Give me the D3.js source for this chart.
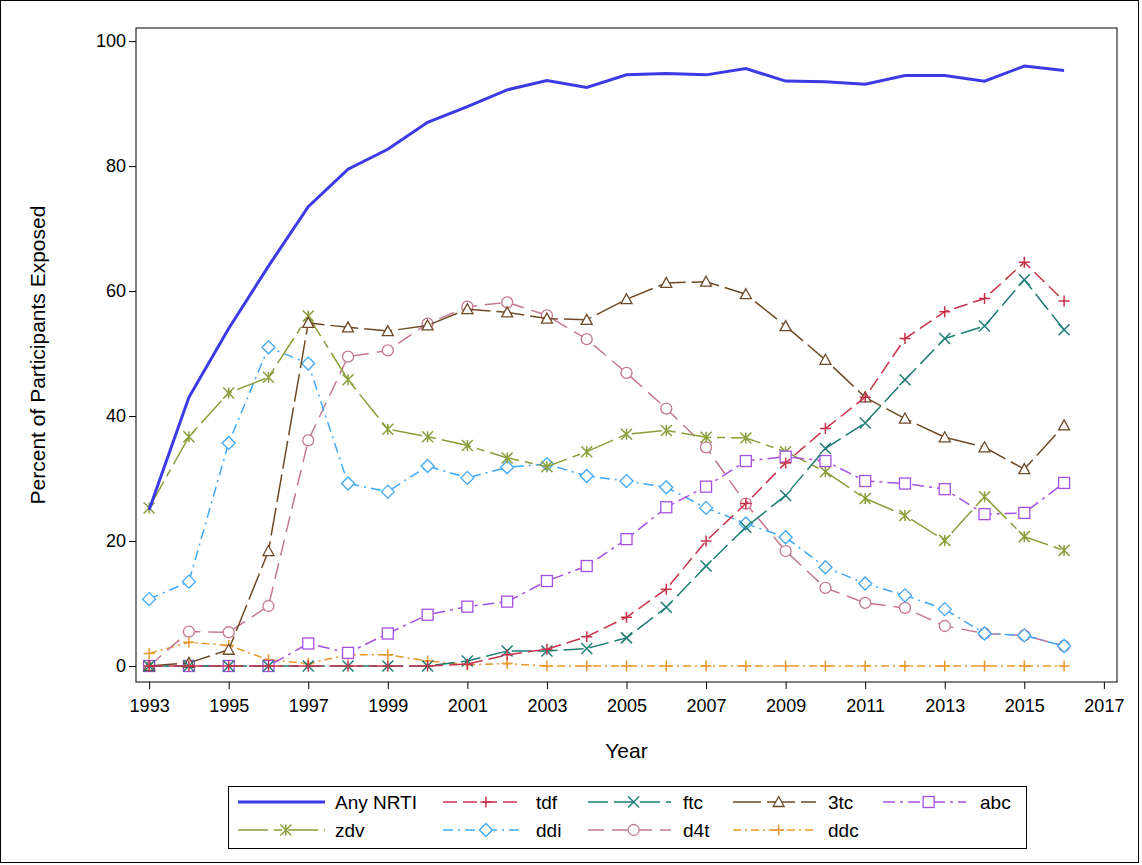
<!DOCTYPE html>
<html><head><meta charset="utf-8">
<script src="https://cdn.jsdelivr.net/npm/d3@7"></script>
<style>body{margin:0;background:#fff;font-family:Arial,"Liberation Sans",sans-serif}</style>
</head><body><svg id="c" width="1142" height="865"></svg>
<script>
const years=d3.range(1993,2017);
const xTicks=[1993,1995,1997,1999,2001,2003,2005,2007,2009,2011,2013,2015,2017];
const yTicks=[0,20,40,60,80,100];
const anyNRTI=[25,43,54,64,73.5,79.5,82.7,87,89.5,92.2,93.7,92.6,94.6,94.8,94.6,95.6,93.6,93.5,93.1,94.5,94.5,93.6,96,95.3];
const tdf=[0,0,0,0,0,0,0,0,0.3,1.8,2.7,4.7,7.8,12.3,20,26,32.5,38,43,52.4,56.7,58.8,64.6,58.4];
const ftc=[0,0,0,0,0,0,0,0,0.8,2.4,2.4,2.8,4.5,9.4,16,22.2,27.3,34.8,38.9,45.8,52.4,54.4,61.8,53.8];
const tc3=[0,0.5,2.6,18.4,54.9,54.2,53.6,54.5,57.1,56.6,55.6,55.4,58.7,61.3,61.5,59.5,54.4,49,43,39.6,36.6,35,31.5,38.5];
const abc=[0,0,0,0,3.6,2.1,5.2,8.2,9.5,10.3,13.6,16,20.3,25.4,28.7,32.8,33.5,32.8,29.6,29.2,28.3,24.3,24.5,29.3];
const zdv=[25.3,36.7,43.7,46.2,56,45.8,37.9,36.7,35.3,33.3,31.9,34.3,37.1,37.7,36.6,36.5,34.3,31.1,26.8,24.1,20.1,27.1,20.7,18.5];
const ddi=[10.7,13.5,35.7,51,48.4,29.2,27.9,32,30.1,31.8,32.3,30.4,29.6,28.6,25.3,22.8,20.6,15.8,13.2,11.3,9.1,5.2,4.9,3.2];
const d4t=[0,5.5,5.4,9.6,36.1,49.5,50.5,54.8,57.5,58.2,56.1,52.3,46.9,41.2,35,26,18.4,12.5,10.1,9.3,6.4,5.2,4.9,3.2];
const ddc=[2,3.8,3.3,1,0.4,1.8,1.8,0.8,0.2,0.4,0,0,0,0,0,0,0,0,0,0,0,0,0,0];

const series=[
 {name:"Any NRTI",v:anyNRTI,c:"#3b3be6",dash:null,m:null,w:3},
 {name:"tdf",v:tdf,c:"#c8324a",dash:"14,6",m:"plus",w:1.5},
 {name:"ftc",v:ftc,c:"#1d7d74",dash:"20,6",m:"x",w:1.5},
 {name:"3tc",v:tc3,c:"#6e4a26",dash:"28,6",m:"tri",w:1.5},
 {name:"abc",v:abc,c:"#a650e0",dash:"12,5,3,5",m:"sq",w:1.5},
 {name:"zdv",v:zdv,c:"#8a9e3a",dash:"30,6,8,6",m:"star",w:1.5},
 {name:"ddi",v:ddi,c:"#3ea8f5",dash:"10,5,2,5",m:"dia",w:1.5},
 {name:"d4t",v:d4t,c:"#c47892",dash:"16,8",m:"circ",w:1.5},
 {name:"ddc",v:ddc,c:"#e8982a",dash:"8,4,2,4",m:"plus",w:1.5}
];
const svg=d3.select("#c");
svg.append("rect").attr("x",0.5).attr("y",0.5).attr("width",1138).attr("height",862).attr("fill","none").attr("stroke","#000");
const L=136,R=1117,T=28,B=682;
const x=d3.scaleLinear().domain([1992.67,2017.33]).range([L,R]);
const y=d3.scaleLinear().domain([-2.56,102.1]).range([B,T]);
svg.append("rect").attr("x",L).attr("y",T).attr("width",R-L).attr("height",B-T).attr("fill","none").attr("stroke","#000");
const xa=svg.append("g").attr("transform",`translate(0,${B})`).call(d3.axisBottom(x).tickValues(xTicks).tickFormat(d3.format("d")).tickSize(7).tickSizeOuter(0));
const ya=svg.append("g").attr("transform",`translate(${L},0)`).call(d3.axisLeft(y).tickValues(yTicks).tickSize(7).tickSizeOuter(0));
[xa,ya].forEach(a=>{a.select(".domain").remove();a.selectAll("text").attr("font-size",18).attr("fill","#000").attr("font-family","Arial,Liberation Sans");});
xa.selectAll("text").attr("dy","1.1em");
svg.append("text").attr("x",(L+R)/2).attr("y",758).attr("text-anchor","middle").attr("font-size",21).text("Year");
svg.append("text").attr("transform",`translate(45,${(T+B)/2}) rotate(-90)`).attr("text-anchor","middle").attr("font-size",21).text("Percent of Participants Exposed");

function marker(g,type,cx,cy,c){
  const s=5.5;
  if(type==="plus"){g.append("path").attr("d",`M${cx-s},${cy}H${cx+s}M${cx},${cy-s}V${cy+s}`).attr("stroke",c).attr("stroke-width",1.5);}
  else if(type==="x"){g.append("path").attr("d",`M${cx-s},${cy-s}L${cx+s},${cy+s}M${cx-s},${cy+s}L${cx+s},${cy-s}`).attr("stroke",c).attr("stroke-width",1.5);}
  else if(type==="star"){g.append("path").attr("d",`M${cx-s},${cy-s}L${cx+s},${cy+s}M${cx-s},${cy+s}L${cx+s},${cy-s}M${cx},${cy-s}V${cy+s}`).attr("stroke",c).attr("stroke-width",1.5);}
  else if(type==="tri"){g.append("path").attr("d",`M${cx},${cy-s}L${cx+s},${cy+s-1}L${cx-s},${cy+s-1}Z`).attr("stroke",c).attr("fill","#fff").attr("stroke-width",1.3);}
  else if(type==="sq"){g.append("rect").attr("x",cx-s).attr("y",cy-s).attr("width",2*s).attr("height",2*s).attr("stroke",c).attr("fill","#fff").attr("stroke-width",1.3);}
  else if(type==="dia"){g.append("path").attr("d",`M${cx},${cy-s-1}L${cx+s+1},${cy}L${cx},${cy+s+1}L${cx-s-1},${cy}Z`).attr("stroke",c).attr("fill","#fff").attr("stroke-width",1.3);}
  else if(type==="circ"){g.append("circle").attr("cx",cx).attr("cy",cy).attr("r",s).attr("stroke",c).attr("fill","#fff").attr("stroke-width",1.3);}
}
const line=d3.line().x((d,i)=>x(years[i])).y(d=>y(d));
const g=svg.append("g");
[...series].reverse().forEach(s=>{
  g.append("path").attr("d",line(s.v)).attr("fill","none").attr("stroke",s.c).attr("stroke-width",s.w).attr("stroke-dasharray",s.dash);
  if(s.m){const mg=g.append("g");s.v.forEach((v,i)=>marker(mg,s.m,x(years[i]),y(v),s.c));}
});
// legend
svg.append("rect").attr("x",228.5).attr("y",786.5).attr("width",798).attr("height",62).attr("fill","none").attr("stroke","#000");
const lineStart=[238,443,588,733,883], lineLen=[87,78,83,83,83], textX=[335,536,683,828,980];
series.forEach((s,i)=>{
  const row=i<5?0:1, col=i<5?i:i-5;
  const ly=row===0?802:830;
  const sx=lineStart[col], lw=lineLen[col];
  svg.append("path").attr("d",`M${sx},${ly}H${sx+lw}`).attr("stroke",s.c).attr("stroke-width",s.w).attr("stroke-dasharray",s.dash);
  if(s.m){const mg=svg.append("g");marker(mg,s.m,sx+lw*0.55,ly,s.c);}
  svg.append("text").attr("x",textX[col]).attr("y",ly+7).attr("font-size",19).text(s.name);
});
</script></body></html>
